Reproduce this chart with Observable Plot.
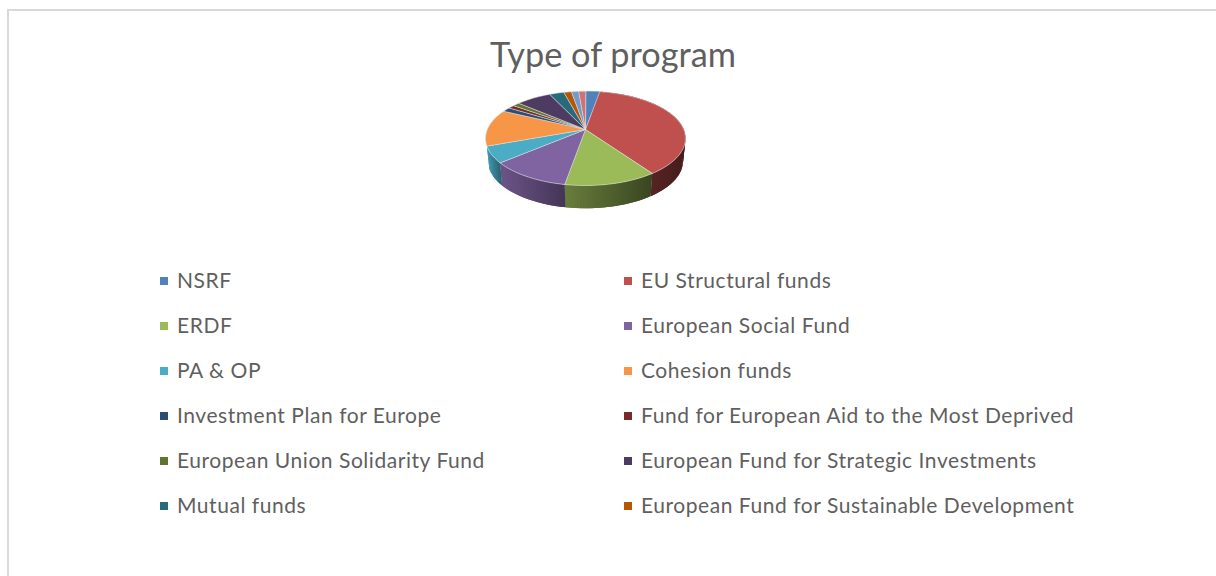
<!DOCTYPE html>
<html>
<head>
<meta charset="utf-8">
<script src="https://cdn.jsdelivr.net/npm/d3@7"></script>
<script src="https://cdn.jsdelivr.net/npm/@observablehq/plot@0.6"></script>
<style>
html,body{margin:0;padding:0;background:#fff;width:1216px;height:576px;overflow:hidden;font-family:Lato,"Open Sans",sans-serif;color:#5f5f5f}
#frame{position:absolute;left:7px;top:9px;width:1300px;height:700px;border:2px solid #d9d9d9;box-sizing:border-box}
#title{position:absolute;left:0;width:1226px;top:33px;text-align:center;font-size:34.3px;line-height:42px;font-weight:400}
#pie{position:absolute;left:0;top:80px;filter:blur(0.45px)}
#pie svg{display:block;background:transparent}
.item{position:absolute;font-size:21px;letter-spacing:.55px;line-height:28px;white-space:nowrap}
.sw{position:absolute;width:8px;height:8px}
</style>
</head>
<body>
<div id="frame"></div>
<div id="title">Type of program</div>
<div id="pie"></div>
<div id="legend"></div>
<script>
const categories = ["NSRF","EU Structural funds","ERDF","European Social Fund","PA & OP","Cohesion funds","Investment Plan for Europe","Fund for European Aid to the Most Deprived","European Union Solidarity Fund","European Fund for Strategic Investments","Mutual funds","European Fund for Sustainable Development","Other A","Other B"];
const shares = [2.75,37.47,12.53,11.08,5.6,12.7,1.55,1.2,1.3,6.8,2.8,1.5,1.4,1.32];
const colors = ["#4f81bd","#c0504d","#9bbb59","#8064a2","#4bacc6","#f79646","#2c4d75","#772c2a","#5f7530","#4d3b62","#276a7c","#b65708","#729aca","#cd7371"];
const legendCount = 12;

// perspective tilt of the disc, thickness of its side wall (y units), shrink of the far bottom rim
const k = 0.1877, depth = 0.5, rimShrink = 0.975;
const total = d3.sum(shares);
const project = (deg, wall = false) => {
  const t = deg * Math.PI / 180, u = Math.sin(t), v = -Math.cos(t), w = 1 - k * v;
  return wall ? {x: rimShrink * u / w, y: v / w + depth} : {x: u / w, y: v / w};
};

const wallRows = [], topRows = [];
let start = 0;
shares.forEach((s, i) => {
  const a0 = start, a1 = start + s / total * 360;
  start = a1;
  const n = Math.max(2, Math.ceil((a1 - a0) / 1.5));
  const angles = d3.range(n + 1).map(j => a0 + (a1 - a0) * j / n);
  // top face
  topRows.push({id: i, x: 0, y: 0, fill: colors[i]});
  angles.forEach(a => topRows.push({id: i, ...project(a), fill: colors[i]}));
  // side wall only where it faces the viewer; overlapping strips shaded left (lighter) to right (darker)
  if (a0 >= 245) return;
  const xs = angles.map(a => project(a).x);
  const xl = d3.min(xs), xr = d3.max(xs);
  const s0 = 0.62 - 0.25 * xl, s1 = Math.max(0.36, s0 - 0.3);
  for (let j = 0; j < n; j++) {
    const end = angles[Math.min(n, j + 2)];
    const p = project(angles[j]), q = project(angles[j + 1]);
    const f = ((p.x + q.x) / 2 - xl) / ((xr - xl) || 1);
    const shade = s0 + (s1 - s0) * f;
    const c = d3.rgb(colors[i]);
    const fill = d3.rgb(c.r * shade, c.g * shade, c.b * shade).formatHex();
    const id = i + "-" + j;
    [project(angles[j]), project(end), project(end, true), project(angles[j], true)]
      .forEach(pt => wallRows.push({id, ...pt, fill}));
  }
});

const chart = Plot.plot({
  width: 1216, height: 140, margin: 0,
  x: {domain: [-1.2, 1.2], range: [585 - 1.2 * 98.2, 585 + 1.2 * 98.2], axis: null},
  y: {domain: [-1, 1.5], range: [49 - 45.5, 49 + 1.5 * 45.5], axis: null},
  marks: [
    Plot.line(wallRows, {x: "x", y: "y", z: "id", fill: "fill", stroke: "none", curve: "linear-closed"}),
    Plot.line(topRows, {x: "x", y: "y", z: "id", fill: "fill", stroke: "#e4e4e4", strokeWidth: 0.7, strokeOpacity: 0.8, curve: "linear-closed"})
  ]
});
document.getElementById("pie").appendChild(chart);

const legend = document.getElementById("legend");
categories.slice(0, legendCount).forEach((name, i) => {
  const col = i % 2, row = Math.floor(i / 2);
  const cy = Math.floor(281 + row * 45.15);
  const sw = document.createElement("div");
  sw.className = "sw";
  sw.style.left = (col ? 624 : 160) + "px";
  sw.style.top = (cy - 4) + "px";
  sw.style.background = colors[i];
  const t = document.createElement("div");
  t.className = "item";
  t.style.left = (col ? 641 : 177) + "px";
  t.style.top = (cy - 15) + "px";
  t.textContent = name;
  legend.append(sw, t);
});
</script>
</body>
</html>
